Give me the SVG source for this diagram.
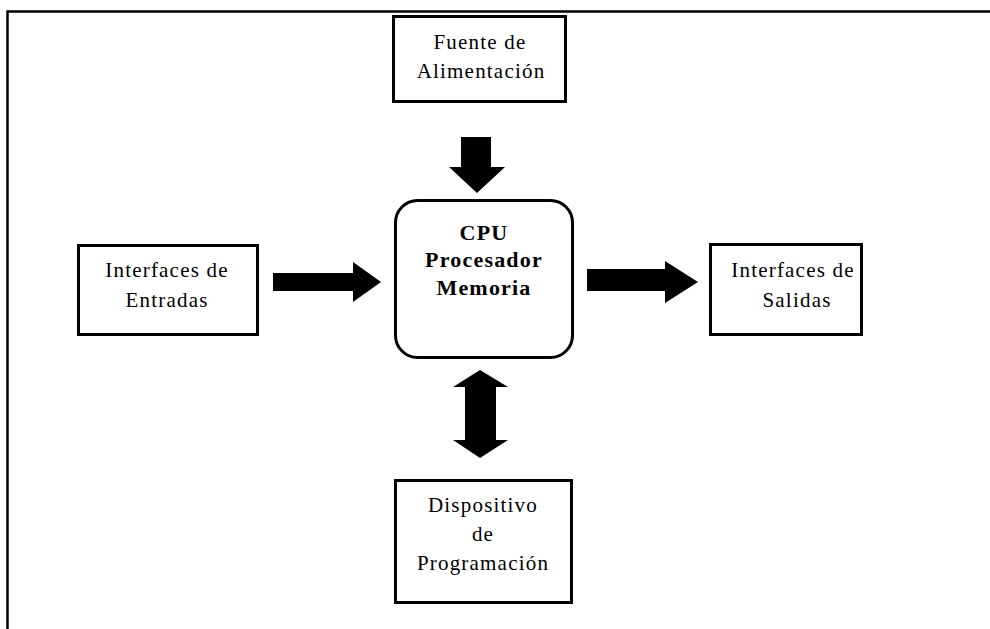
<svg xmlns="http://www.w3.org/2000/svg" width="990" height="629" viewBox="0 0 990 629">
  <style>
    .box { fill: #fff; stroke: #000; stroke-width: 3; }
    .lbl { font-family: "Liberation Serif", "DejaVu Serif", serif; font-size: 21px; letter-spacing: 1.2px; text-anchor: middle; fill: #000; }
    .cpu { font-family: "Liberation Serif", "DejaVu Serif", serif; font-size: 22px; font-weight: bold; letter-spacing: 1.2px; text-anchor: middle; fill: #000; }
    .arrow { fill: #000; }
  </style>
  <rect width="990" height="629" fill="#fff"/>
  <!-- outer frame: top and left edges -->
  <path d="M7.5 629 V11.5 H990" fill="none" stroke="#000" stroke-width="2.5"/>

  <g id="fuente">
    <rect class="box" x="393.5" y="16.5" width="172" height="85"/>
    <text class="lbl" x="480" y="49">Fuente de</text>
    <text class="lbl" x="481" y="78">Alimentación</text>
  </g>

  <g id="cpu">
    <rect class="box" x="395.5" y="200.5" width="177" height="157" rx="22" ry="22"/>
    <text class="cpu" x="484" y="240">CPU</text>
    <text class="cpu" x="484" y="267">Procesador</text>
    <text class="cpu" x="484" y="295">Memoria</text>
  </g>

  <g id="entradas">
    <rect class="box" x="78.5" y="245.5" width="179" height="89"/>
    <text class="lbl" x="167" y="277">Interfaces de</text>
    <text class="lbl" x="167" y="307">Entradas</text>
  </g>

  <g id="salidas">
    <rect class="box" x="710.5" y="244.5" width="151" height="90"/>
    <text class="lbl" x="793" y="277">Interfaces de</text>
    <text class="lbl" x="797" y="307">Salidas</text>
  </g>

  <g id="programacion">
    <rect class="box" x="395.5" y="480.5" width="176" height="122"/>
    <text class="lbl" x="483" y="512">Dispositivo</text>
    <text class="lbl" x="483" y="541">de</text>
    <text class="lbl" x="483" y="570">Programación</text>
  </g>

  <g id="connectors">
    <!-- power supply to CPU -->
    <polygon class="arrow" points="461,137 491,137 491,167 505,167 477,193 449,167 461,167"/>
    <!-- inputs to CPU -->
    <polygon class="arrow" points="273,273 353,273 353,262 381,282 353,302 353,291 273,291"/>
    <!-- CPU to outputs -->
    <polygon class="arrow" points="587,269 665,269 665,261 698,282 665,303 665,291 587,291"/>
    <!-- CPU to programming device, both ways -->
    <polygon class="arrow" points="480,370 508,387 496,387 496,440 508,440 480,458 453,440 465,440 465,387 453,387"/>
  </g>
</svg>
